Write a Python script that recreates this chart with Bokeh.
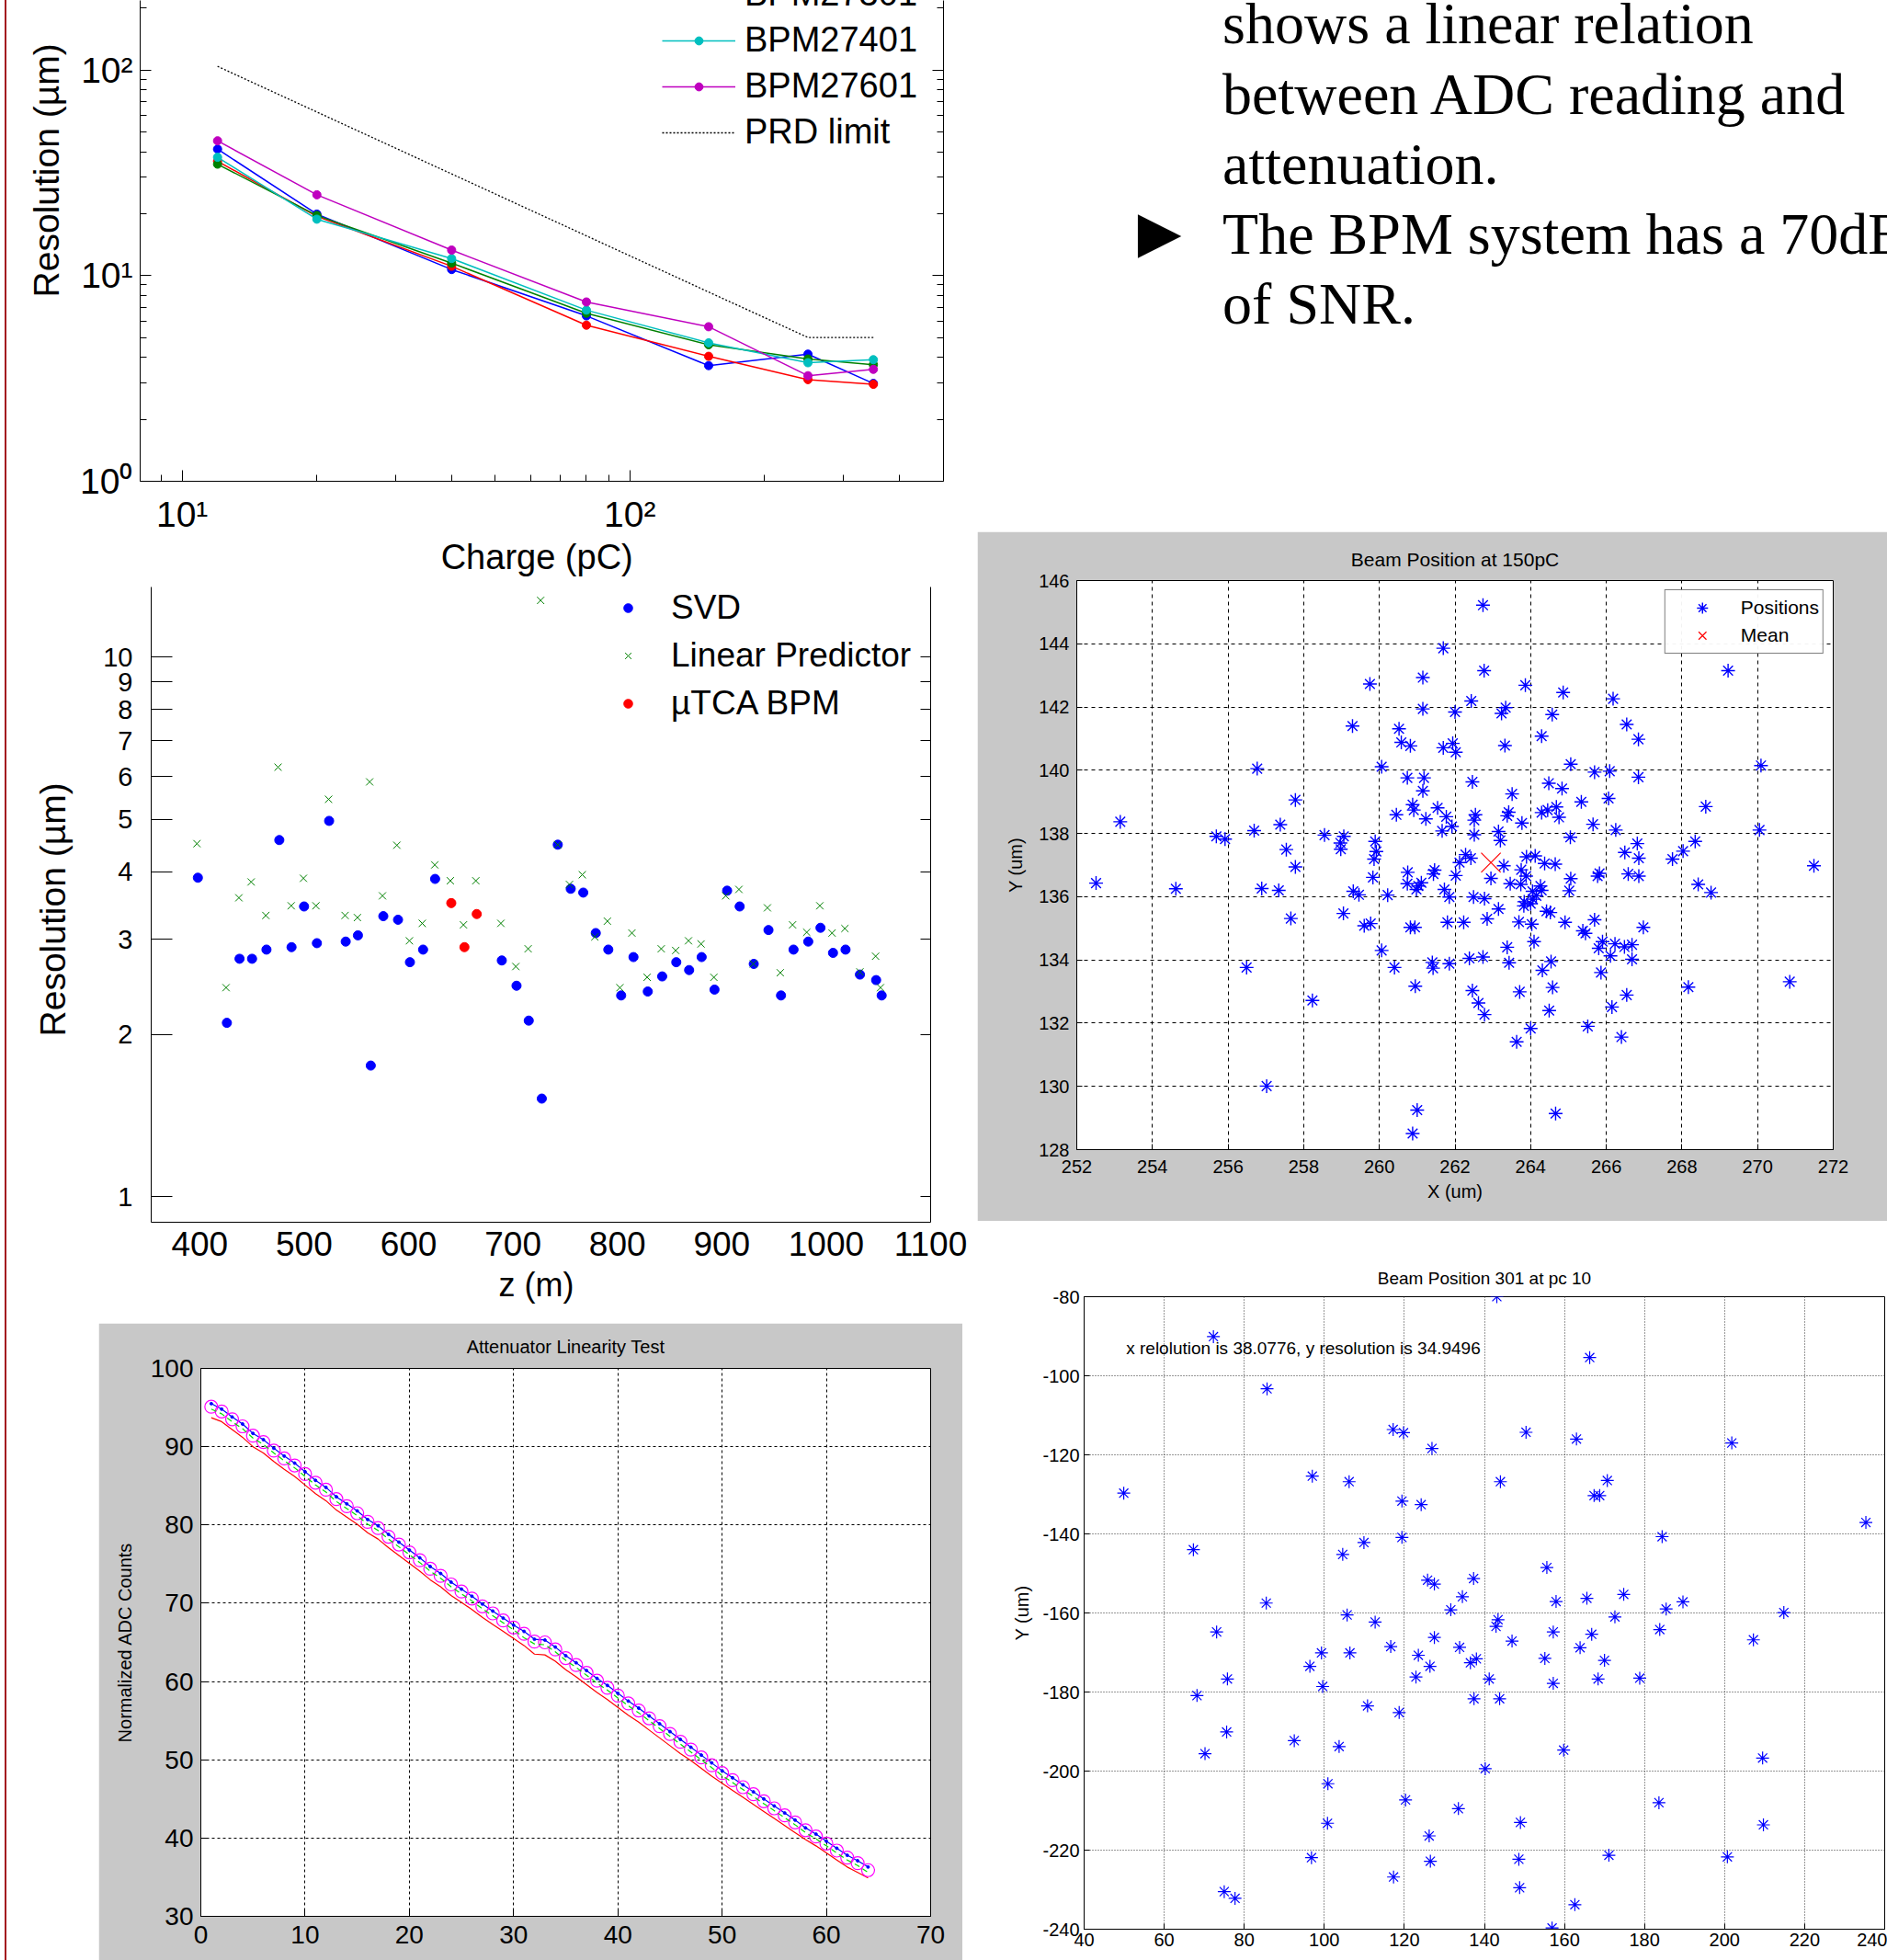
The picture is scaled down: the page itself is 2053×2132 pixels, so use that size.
import math
from bokeh.plotting import figure
from bokeh.models import (FixedTicker, Legend, LegendItem, Label, LogAxis, Range1d,
                          SingleIntervalTicker, Spacer, Title)
from bokeh.layouts import row, column
from bokeh.embed import file_html
from bokeh.resources import INLINE

SANS = "Liberation Sans"
SERIF = "Liberation Serif"
GREY = "#c8c8c8"
SLIDE_RED = "#a3161f"

# ---------------- Panel 1: resolution vs charge ----------------
charge_pc = [12, 20, 40, 80, 150, 250, 350]
res_bpm_blue = [41.2, 19.9, 10.7, 6.37, 3.65, 4.15, 2.99]
res_bpm_red = [36.0, 19.4, 11.1, 5.74, 4.05, 3.12, 2.96]
res_bpm27301 = [34.8, 19.6, 11.5, 6.56, 4.61, 3.93, 3.69]
res_bpm27401 = [37.6, 18.8, 12.1, 6.79, 4.71, 3.77, 3.90]
res_bpm27601 = [45.2, 24.7, 13.3, 7.44, 5.64, 3.26, 3.50]
prd_limit = [104, 62.4, 31.2, 15.6, 8.32, 5.0, 5.0]
charge_major_ticks = [10, 100]
charge_minor_ticks = [9, 20, 30, 40, 50, 60, 70, 80, 90, 200, 300, 400]
res1_major_ticks = [1, 10, 100]
res1_minor_ticks = [2, 3, 4, 5, 6, 7, 8, 9, 20, 30, 40, 50, 60, 70, 80, 90, 200]
pow_labels = {1: "10\u2070", 10: "10\u00b9", 100: "10\u00b2"}

# ---------------- Panel 2: resolution vs z ----------------
svd_z = [398.2, 426.0, 438.1, 450.1, 463.9, 476.2, 487.9, 499.9, 512.2, 523.9,
         539.8, 551.5, 563.8, 575.8, 589.9, 601.3, 613.9, 625.4, 689.3, 703.4,
         715.1, 727.6, 742.9, 755.3, 767.3, 779.3, 791.3, 803.6, 815.4, 829.1,
         842.9, 856.4, 868.7, 880.7, 893.0, 905.1, 917.1, 930.6, 944.7, 956.7,
         968.7, 982.8, 994.5, 1006.5, 1018.5, 1032.3, 1047.8, 1053.1]
svd_res = [3.90, 2.10, 2.76, 2.76, 2.87, 4.58, 2.90, 3.45, 2.95, 4.97,
           2.97, 3.05, 1.75, 3.31, 3.26, 2.72, 2.87, 3.88, 2.74, 2.46,
           2.12, 1.52, 4.49, 3.72, 3.66, 3.08, 2.87, 2.36, 2.78, 2.40,
           2.56, 2.72, 2.63, 2.78, 2.42, 3.69, 3.45, 2.70, 3.12, 2.36,
           2.87, 2.97, 3.15, 2.83, 2.87, 2.58, 2.52, 2.36]
lp_z = [397.3, 425.2, 437.5, 449.2, 463.3, 475.0, 487.6, 499.3, 511.3, 523.4,
        539.2, 551.0, 562.7, 575.0, 588.8, 600.8, 613.1, 625.1, 640.0, 652.6,
        664.4, 688.4, 702.7, 714.5, 726.5, 742.9, 754.1, 766.4, 778.4, 790.4,
        802.4, 813.9, 828.5, 842.0, 855.8, 868.1, 880.1, 892.4, 903.8, 916.4,
        930.2, 943.7, 956.0, 967.8, 981.3, 993.9, 1005.6, 1017.9, 1032.3, 1047.3,
        1052.0]
lp_res = [4.51, 2.44, 3.58, 3.83, 3.32, 6.25, 3.46, 3.89, 3.46, 5.45,
          3.32, 3.29, 5.87, 3.61, 4.48, 2.98, 3.21, 4.12, 3.85, 3.19,
          3.85, 3.21, 2.67, 2.88, 12.73, 4.49, 3.79, 3.95, 3.03, 3.24,
          2.44, 3.08, 2.55, 2.88, 2.86, 2.98, 2.94, 2.55, 3.61, 3.71,
          2.70, 3.43, 2.60, 3.19, 3.09, 3.46, 3.08, 3.14, 2.61, 2.79,
          2.44]
utca_z = [640.9, 653.5, 665.3]
utca_res = [3.50, 2.90, 3.34]
z_ticks = [400, 500, 600, 700, 800, 900, 1000, 1100]
res2_ticks = [1, 2, 3, 4, 5, 6, 7, 8, 9, 10]

# ---------------- Panel 3: beam position at 150pC ----------------
beam150_x = [262.74, 261.69, 262.77, 269.22, 259.75, 261.15, 263.86, 264.86, 266.18, 262.43,
             261.15, 262.00, 263.34, 263.23, 264.57, 259.29, 260.52, 266.54, 264.29, 266.85,
             260.58, 260.82, 261.69, 261.94, 262.02, 263.32, 256.77, 260.06, 270.09, 265.06,
             265.69, 266.09, 260.74, 261.18, 266.85, 262.46, 264.48, 261.15, 264.83, 263.51,
             257.78, 266.06, 265.34, 260.88, 260.91, 268.63, 261.54, 260.45, 263.42, 263.38,
             262.54, 261.23, 262.51, 264.29, 264.45, 264.68, 264.75, 263.77, 261.77, 261.92,
             253.15, 257.38, 265.65, 266.25, 270.05, 255.69, 255.92, 256.69, 258.55, 259.06,
             258.97, 258.98, 259.89, 261.66, 262.51, 263.15, 263.20, 265.05, 266.82, 268.35,
             268.03, 267.75, 257.54, 257.78, 259.92, 259.86, 262.28, 262.42, 262.12, 263.89,
             264.12, 263.29, 264.37, 264.65, 266.49, 266.86, 271.49, 252.51, 254.62, 256.89,
             257.34, 259.83, 260.75, 261.46, 261.43, 262.02, 262.95, 263.88, 263.75, 265.06,
             265.77, 265.82, 266.58, 266.86, 263.46, 263.74, 264.26, 264.29, 260.74, 261.03,
             261.11, 260.98, 259.31, 259.46, 260.22, 261.72, 261.85, 262.49, 262.78, 264.05,
             264.15, 265.02, 268.43, 268.77, 263.83, 263.82, 264.00, 264.06, 263.15, 264.42,
             264.52, 259.05, 257.66, 262.85, 259.60, 259.77, 260.82, 260.94, 261.80, 262.23,
             263.69, 264.03, 264.91, 265.69, 265.38, 265.45, 266.98, 260.06, 260.40, 261.40,
             261.42, 261.85, 262.38, 262.74, 263.38, 263.43, 264.09, 264.54, 264.31, 265.80,
             265.90, 266.11, 266.23, 266.48, 266.68, 266.68, 265.86, 256.49, 258.23, 260.95,
             262.46, 262.62, 262.78, 263.71, 264.58, 264.49, 266.15, 266.54, 268.17, 270.85,
             265.51, 264.00, 263.63, 266.40, 257.02, 261.00, 264.66, 260.88]
beam150_y = [145.22, 143.86, 143.15, 143.15, 142.73, 142.93, 142.69, 142.46, 142.26, 142.19,
             141.94, 141.84, 141.98, 141.80, 141.76, 141.40, 141.31, 141.45, 141.08, 140.98,
             140.88, 140.77, 140.71, 140.85, 140.57, 140.78, 140.05, 140.11, 140.15, 140.19,
             139.94, 139.97, 139.76, 139.76, 139.78, 139.63, 139.59, 139.35, 139.42, 139.25,
             139.06, 139.11, 139.00, 138.91, 138.74, 138.85, 138.81, 138.59, 138.67, 138.56,
             138.59, 138.46, 138.42, 138.66, 138.74, 138.84, 138.51, 138.33, 138.53, 138.22,
             138.37, 138.28, 138.29, 138.11, 138.11, 137.91, 137.82, 138.09, 137.95, 137.91,
             137.70, 137.50, 137.75, 138.08, 137.96, 138.06, 137.78, 137.88, 137.68, 137.75,
             137.44, 137.19, 137.49, 136.94, 137.43, 137.19, 137.33, 137.22, 137.08, 137.26,
             137.29, 136.98, 137.05, 137.03, 137.40, 137.22, 136.98, 136.43, 136.25, 136.26,
             136.20, 136.61, 136.77, 136.84, 136.72, 136.67, 136.58, 136.65, 136.85, 136.57,
             136.65, 136.74, 136.72, 136.65, 136.41, 136.39, 136.34, 136.20, 136.41, 136.34,
             136.44, 136.23, 136.17, 136.06, 136.05, 136.23, 135.99, 135.99, 135.94, 136.17,
             136.03, 136.19, 136.39, 136.13, 135.84, 135.71, 135.78, 135.92, 135.61, 135.54,
             135.50, 135.47, 135.31, 135.30, 135.08, 135.15, 135.03, 135.03, 135.19, 135.19,
             135.20, 135.13, 135.19, 135.27, 134.92, 134.84, 135.03, 134.30, 133.76, 133.92,
             133.74, 133.88, 134.05, 134.09, 134.40, 133.91, 134.58, 133.95, 133.67, 134.37,
             134.58, 134.13, 134.51, 134.41, 134.48, 134.02, 133.60, 133.76, 132.72, 133.17,
             133.03, 132.64, 132.27, 132.99, 133.13, 132.40, 132.51, 132.89, 133.14, 133.31,
             131.90, 131.83, 131.41, 131.56, 130.01, 129.25, 129.14, 128.51]
mean150_x = [262.95]
mean150_y = [137.08]

# ---------------- Panel 4: attenuator linearity ----------------
att_db = list(range(1, 65))
adc_magenta = [95.1, 94.5, 93.5, 92.6, 91.4, 90.6, 89.5, 88.5, 87.6, 86.5,
               85.4, 84.5, 83.3, 82.4, 81.5, 80.4, 79.6, 78.5, 77.5, 76.5,
               75.5, 74.4, 73.5, 72.4, 71.5, 70.6, 69.6, 68.7, 67.8, 66.9,
               66.1, 65.1, 65.0, 64.1, 63.0, 62.1, 61.1, 60.1, 59.2, 58.2,
               57.2, 56.3, 55.3, 54.3, 53.3, 52.3, 51.3, 50.3, 49.3, 48.3,
               47.4, 46.5, 45.6, 44.7, 43.8, 42.9, 42.0, 41.0, 40.2, 39.3,
               38.4, 37.5, 36.8, 35.9]
adc_blue = [95.5, 94.8, 93.8, 92.9, 91.7, 90.9, 89.8, 88.8, 87.9, 86.8,
            85.7, 84.8, 83.6, 82.7, 81.8, 80.7, 79.9, 78.8, 77.8, 76.8,
            75.8, 74.7, 73.8, 72.7, 71.8, 70.9, 69.9, 69.0, 68.1, 67.2,
            66.4, 65.4, 65.3, 64.4, 63.3, 62.4, 61.4, 60.4, 59.5, 58.5,
            57.5, 56.6, 55.6, 54.6, 53.6, 52.6, 51.6, 50.6, 49.6, 48.6,
            47.7, 46.8, 45.9, 45.0, 44.1, 43.2, 42.3, 41.3, 40.5, 39.6,
            38.7, 37.8, 37.1, 36.3]
adc_green = [94.8, 94.2, 93.2, 92.3, 91.1, 90.3, 89.2, 88.2, 87.3, 86.2,
             85.1, 84.2, 83.0, 82.1, 81.2, 80.1, 79.3, 78.2, 77.2, 76.2,
             75.2, 74.1, 73.2, 72.1, 71.2, 70.3, 69.3, 68.4, 67.5, 66.6,
             65.6, 64.8, 64.7, 63.8, 62.7, 61.8, 60.8, 59.8, 58.9, 57.9,
             56.9, 56.0, 55.0, 54.0, 53.0, 52.0, 51.0, 50.0, 49.0, 48.0,
             47.1, 46.2, 45.3, 44.4, 43.5, 42.6, 41.7, 40.7, 39.9, 39.0,
             38.1, 37.2, 36.5, 35.6]
adc_red = [93.7, 93.2, 92.2, 91.2, 90.0, 89.2, 88.1, 87.1, 86.2, 85.1,
           84.0, 83.1, 81.9, 81.0, 80.1, 79.0, 78.2, 77.1, 76.1, 75.1,
           74.1, 73.0, 72.1, 71.0, 70.1, 69.2, 68.2, 67.3, 66.4, 65.5,
           64.6, 63.5, 63.4, 62.6, 61.5, 60.6, 59.6, 58.6, 57.7, 56.7,
           55.7, 54.8, 53.8, 52.8, 51.8, 50.8, 49.9, 48.9, 47.9, 47.0,
           46.1, 45.2, 44.3, 43.4, 42.5, 41.6, 40.7, 39.8, 39.0, 38.1,
           37.2, 36.3, 35.6, 34.9]

# ---------------- Panel 5: beam position 301 at pc 10 ----------------
beam301_x = [143.1, 72.3, 166.3, 85.7, 117.2, 119.8, 150.4, 163.0, 126.9, 201.8,
             49.9, 97.0, 106.2, 144.0, 170.7, 167.4, 168.8, 119.4, 124.2, 119.4,
             109.9, 184.4, 235.3, 67.3, 104.6, 155.6, 125.8, 127.5, 137.3, 134.5,
             174.8, 165.6, 157.9, 189.6, 185.4, 85.5, 131.6, 214.8, 105.7, 172.6,
             143.4, 112.7, 142.9, 73.1, 157.2, 183.8, 166.8, 127.5, 207.2, 146.9,
             116.6, 133.8, 163.9, 99.3, 106.4, 123.5, 155.1, 138.0, 170.0, 136.5,
             96.4, 126.4, 75.8, 122.9, 141.2, 168.4, 178.8, 157.2, 99.6, 68.2,
             137.4, 143.8, 110.8, 118.7, 75.6, 92.5, 103.7, 159.8, 70.2, 209.5,
             140.2, 100.9, 120.3, 183.6, 133.5, 100.8, 149.0, 209.7, 126.2, 96.8,
             171.1, 200.7, 148.6, 126.5, 117.3, 75.0, 77.7, 148.8, 162.6, 156.9]
beam301_y = [-80.0, -90.1, -95.4, -103.3, -113.6, -114.4, -114.3, -116.0, -118.4, -117.0,
             -129.7, -125.4, -126.8, -126.8, -126.5, -130.3, -130.3, -131.7, -132.6, -140.9,
             -142.2, -140.7, -137.1, -144.0, -145.2, -148.5, -151.7, -152.7, -151.3, -155.9,
             -155.3, -156.3, -157.1, -157.2, -159.0, -157.5, -159.2, -159.9, -160.5, -161.0,
             -161.7, -162.3, -163.4, -164.8, -164.8, -164.2, -165.4, -166.2, -166.8, -167.1,
             -168.5, -168.7, -168.8, -170.1, -170.1, -170.7, -171.5, -171.6, -172.0, -172.6,
             -173.5, -173.5, -176.7, -176.2, -176.7, -176.7, -176.5, -177.8, -178.6, -180.9,
             -181.7, -181.7, -183.5, -185.2, -190.1, -192.3, -193.8, -194.7, -195.6, -196.7,
             -199.4, -203.2, -207.3, -208.0, -209.5, -213.2, -213.0, -213.6, -216.4, -221.9,
             -221.3, -221.7, -222.3, -222.8, -226.8, -230.5, -232.2, -229.5, -233.8, -239.7]
pos301_y_ticks = [-80, -100, -120, -140, -160, -180, -200, -220, -240]
resolution_note = "x relolution is 38.0776, y resolution is 34.9496"

# ---------------- Slide text ----------------
slide_lines = ["shows a linear relation", "between ADC reading and", "attenuation.",
               "The BPM system has a 70dB", "of SNR."]
slide_baselines = [25.4, 102.4, 178.4, 254.4, 330.4]


def ticks_in(ax, major=6, minor=0):
    ax.major_tick_in = major
    ax.major_tick_out = 0
    ax.minor_tick_in = minor
    ax.minor_tick_out = 0


def hidden_labels(ax):
    ax.major_label_text_font_size = "1px"
    ax.major_label_text_color = None
    ax.major_label_standoff = 0


def fig(**kw):
    f = figure(output_backend="svg", toolbar_location=None, **kw)
    f.frame_align = False
    return f


# ======== Panel 1 ========
p1 = fig(width=1056, height=638, x_axis_type="log", y_axis_type="log",
         x_range=Range1d(8.06, 502), y_range=Range1d(1, 217.5),
         min_border_left=145, min_border_right=37, min_border_top=0, min_border_bottom=115)
p1.outline_line_color = None
p1.grid.visible = False
xt1 = FixedTicker(ticks=charge_major_ticks, minor_ticks=charge_minor_ticks)
yt1 = FixedTicker(ticks=res1_major_ticks, minor_ticks=res1_minor_ticks)
p1.xaxis.ticker = xt1
p1.yaxis.ticker = yt1
p1.xaxis.major_label_overrides = {k: v for k, v in pow_labels.items() if k in charge_major_ticks}
p1.yaxis.major_label_overrides = dict(pow_labels)
for ax in (p1.xaxis[0], p1.yaxis[0]):
    ticks_in(ax, 12, 7)
    ax.major_label_text_font = SANS
    ax.major_label_text_font_size = "39px"
    ax.major_label_text_color = "black"
    ax.axis_line_color = "black"
p1.xaxis.major_label_standoff = 14
p1.yaxis.major_label_standoff = 8
p1.xaxis.axis_label = "Charge  (pC)"
p1.xaxis.axis_label_text_font = SANS
p1.xaxis.axis_label_text_font_size = "38px"
p1.xaxis.axis_label_text_font_style = "normal"
p1.xaxis.axis_label_text_color = "black"
p1.xaxis.axis_label_standoff = 1
r1 = LogAxis(ticker=yt1)
ticks_in(r1, 12, 7)
hidden_labels(r1)
p1.add_layout(r1, "right")
p1.add_layout(Title(text="Resolution  (\u00b5m)", align="right", offset=36, standoff=23,
                    vertical_align="middle", text_font=SANS, text_font_size="39px",
                    text_font_style="normal", text_color="black"), "left")

series1 = [(res_bpm_blue, "#0000ff"), (res_bpm_red, "#ff0000"), (res_bpm27301, "#008000"),
           (res_bpm27401, "#00bfbf"), (res_bpm27601, "#bf00bf")]
rends1 = []
for vals, col in series1:
    ln = p1.line(charge_pc, vals, line_color=col, line_width=1.5)
    sc = p1.scatter(charge_pc, vals, marker="circle", size=9, color=col)
    rends1.append([ln, sc])
prd = p1.line(charge_pc, prd_limit, line_color="black", line_dash="2 2", line_width=1.3)

leg1 = Legend(items=[LegendItem(label="BPM27301", renderers=rends1[2]),
                     LegendItem(label="BPM27401", renderers=rends1[3]),
                     LegendItem(label="BPM27601", renderers=rends1[4]),
                     LegendItem(label="PRD limit", renderers=[prd])],
              location=(568, 358))
leg1.label_text_font = SANS
leg1.label_text_font_size = "38px"
leg1.label_text_color = "black"
leg1.glyph_width = 80
leg1.glyph_height = 22
leg1.spacing = 7
leg1.padding = 0
leg1.margin = 0
leg1.label_standoff = 10
leg1.border_line_color = None
leg1.background_fill_alpha = 0
p1.add_layout(leg1)

# ======== Panel 2 ========
p2 = fig(width=1056, height=801, y_axis_type="log",
         x_range=Range1d(353.5, 1100), y_range=Range1d(0.897, 13.48),
         min_border_left=157, min_border_right=51, min_border_top=0, min_border_bottom=110)
p2.outline_line_color = None
p2.grid.visible = False
yt2 = FixedTicker(ticks=res2_ticks, minor_ticks=[])
p2.xaxis.ticker = FixedTicker(ticks=z_ticks, minor_ticks=[])
p2.yaxis.ticker = yt2
p2.yaxis.major_label_overrides = {t: str(t) for t in res2_ticks}
ticks_in(p2.xaxis[0], 0, 0)
ticks_in(p2.yaxis[0], 23, 0)
p2.xaxis.major_label_text_font = SANS
p2.xaxis.major_label_text_font_size = "37px"
p2.xaxis.major_label_standoff = 10
p2.yaxis.major_label_text_font = SANS
p2.yaxis.major_label_text_font_size = "29px"
p2.yaxis.major_label_standoff = 20
p2.xaxis.axis_label = "z  (m)"
p2.yaxis.axis_label = "Resolution  (\u00b5m)"
for ax in (p2.xaxis[0], p2.yaxis[0]):
    ax.axis_label_text_font = SANS
    ax.axis_label_text_font_style = "normal"
    ax.axis_label_text_color = "black"
    ax.major_label_text_color = "black"
    ax.axis_line_color = "black"
p2.xaxis.axis_label_text_font_size = "36px"
p2.yaxis.axis_label_text_font_size = "39px"
p2.xaxis.axis_label_standoff = 8
p2.yaxis.axis_label_standoff = 30
r2 = LogAxis(ticker=yt2)
ticks_in(r2, 11, 0)
hidden_labels(r2)
p2.add_layout(r2, "right")

r_svd = p2.scatter(svd_z, svd_res, marker="circle", size=10, color="#0000ff")
r_lp = p2.scatter(lp_z, lp_res, marker="x", size=11, line_color="#008000", line_width=1)
r_utca = p2.scatter(utca_z, utca_res, marker="circle", size=10, color="#ff0000")
leg2 = Legend(items=[LegendItem(label="SVD", renderers=[r_svd]),
                     LegendItem(label="Linear Predictor", renderers=[r_lp]),
                     LegendItem(label="\u00b5TCA BPM", renderers=[r_utca])],
              location=(507, 543))
leg2.label_text_font = SANS
leg2.label_text_font_size = "37px"
leg2.label_text_color = "black"
leg2.glyph_width = 24
leg2.glyph_height = 24
leg2.spacing = 10
leg2.padding = 0
leg2.margin = 0
leg2.label_standoff = 35
leg2.border_line_color = None
leg2.background_fill_alpha = 0
p2.add_layout(leg2)

# ======== Panel 4 ========
p4 = fig(width=940, height=693, x_range=Range1d(0, 70), y_range=Range1d(30, 100),
         title="Attenuator Linearity Test",
         border_fill_color=GREY, background_fill_color="white",
         min_border_left=111, min_border_right=35, min_border_top=48, min_border_bottom=48)
p4.title.align = "center"
p4.title.text_font = SANS
p4.title.text_font_size = "20px"
p4.title.text_font_style = "normal"
p4.title.text_color = "black"
p4.title.standoff = 25
p4.outline_line_color = "black"
p4.xaxis.ticker = SingleIntervalTicker(interval=10)
p4.yaxis.ticker = SingleIntervalTicker(interval=10)
for ax in (p4.xaxis[0], p4.yaxis[0]):
    ticks_in(ax, 7, 0)
    ax.major_label_text_font = SANS
    ax.major_label_text_font_size = "28px"
    ax.major_label_text_color = "black"
    ax.axis_line_color = "black"
p4.xaxis.major_label_standoff = 10
p4.yaxis.major_label_standoff = 8
p4.yaxis.axis_label = "Normalized ADC Counts"
p4.yaxis.axis_label_text_font = SANS
p4.yaxis.axis_label_text_font_size = "20px"
p4.yaxis.axis_label_text_font_style = "normal"
p4.yaxis.axis_label_text_color = "black"
p4.yaxis.axis_label_standoff = 14
p4.grid.grid_line_color = "black"
p4.grid.grid_line_dash = "3 3"
p4.grid.grid_line_alpha = 1

p4.line(att_db, adc_red, line_color="#ff0000", line_width=1.2)
p4.line(att_db, adc_blue, line_color="#0000ff", line_width=1.2)
p4.scatter(att_db, adc_blue, marker="circle", size=3, color="#0000ff")
p4.scatter(att_db, adc_magenta, marker="circle", size=14, fill_color=None,
           line_color="#ff00ff", line_width=1.2)
p4.line(att_db, adc_green, line_color="#00e000", line_dash="6 4", line_width=1.2)

# ======== Slide text ========
pt = fig(width=990, height=578, x_range=Range1d(0, 990), y_range=Range1d(578, 0),
         x_axis_location=None, y_axis_location=None,
         min_border_left=0, min_border_right=0, min_border_top=0, min_border_bottom=0)
pt.grid.visible = False
pt.outline_line_color = None
for txt, yb in zip(slide_lines, slide_baselines):
    pt.add_layout(Label(x=266.6, y=yb, text=txt, text_font=SERIF, text_font_size="64px",
                        text_baseline="alphabetic", text_align="left", text_color="black"))
pt.add_layout(Label(x=198, y=251, text="\u25b6", text_font="DejaVu Sans",
                    text_font_size="62px", text_baseline="alphabetic", text_align="center",
                    text_color="black"))

# ======== Panel 3 ========
p3 = fig(width=990, height=750, x_range=Range1d(252, 272), y_range=Range1d(128, 146),
         title="Beam Position at 150pC",
         border_fill_color=GREY, background_fill_color="white",
         min_border_left=108, min_border_right=59, min_border_top=53, min_border_bottom=78)
p3.title.align = "center"
p3.title.text_font = SANS
p3.title.text_font_size = "21px"
p3.title.text_font_style = "normal"
p3.title.text_color = "black"
p3.title.standoff = 23
p3.outline_line_color = "black"
p3.xaxis.ticker = SingleIntervalTicker(interval=2)
p3.yaxis.ticker = SingleIntervalTicker(interval=2)
for ax in (p3.xaxis[0], p3.yaxis[0]):
    ticks_in(ax, 6, 0)
    ax.major_label_text_font = SANS
    ax.major_label_text_font_size = "20px"
    ax.major_label_text_color = "black"
    ax.axis_line_color = "black"
    ax.axis_label_text_font = SANS
    ax.axis_label_text_font_size = "20px"
    ax.axis_label_text_font_style = "normal"
    ax.axis_label_text_color = "black"
p3.xaxis.major_label_standoff = 11
p3.yaxis.major_label_standoff = 8
p3.xaxis.axis_label = "X (um)"
p3.yaxis.axis_label = "Y (um)"
p3.xaxis.axis_label_standoff = 6
p3.yaxis.axis_label_standoff = 11
p3.grid.grid_line_color = "black"
p3.grid.grid_line_dash = "4 4"
p3.grid.grid_line_alpha = 1
r_pos = p3.scatter(beam150_x, beam150_y, marker="asterisk", size=15, line_color="#0000ff",
                   line_width=1.4)
r_mean = p3.scatter(mean150_x, mean150_y, marker="x", size=30, line_color="#ff0000",
                    line_width=1.2)
leg3 = Legend(items=[LegendItem(label="Positions", renderers=[r_pos]),
                     LegendItem(label="Mean", renderers=[r_mean])],
              location="top_right")
leg3.label_text_font = SANS
leg3.label_text_font_size = "21px"
leg3.label_text_color = "black"
leg3.glyph_width = 72
leg3.glyph_height = 30
leg3.spacing = 0
leg3.padding = 4
leg3.margin = 10
leg3.label_standoff = 6
leg3.border_line_color = "black"
leg3.border_line_width = 1.5
leg3.background_fill_color = "white"
p3.add_layout(leg3)

# ======== Panel 5 ========
p5 = fig(width=990, height=804, x_range=Range1d(40, 240), y_range=Range1d(-240, -80),
         title="Beam Position 301 at pc 10",
         border_fill_color="white", background_fill_color="white",
         min_border_left=116, min_border_right=3, min_border_top=82, min_border_bottom=34)
p5.title.align = "center"
p5.title.text_font = SANS
p5.title.text_font_size = "19px"
p5.title.text_font_style = "normal"
p5.title.text_color = "black"
p5.title.standoff = 19
p5.outline_line_color = "black"
p5.xaxis.ticker = SingleIntervalTicker(interval=20)
p5.yaxis.ticker = FixedTicker(ticks=pos301_y_ticks)
p5.yaxis.major_label_overrides = {t: str(t) for t in pos301_y_ticks}
for ax in (p5.xaxis[0], p5.yaxis[0]):
    ticks_in(ax, 6, 0)
    ax.major_label_text_font = SANS
    ax.major_label_text_font_size = "20px"
    ax.major_label_text_color = "black"
    ax.axis_line_color = "black"
p5.xaxis.major_label_standoff = 4
p5.yaxis.major_label_standoff = 5
p5.yaxis.axis_label = "Y (um)"
p5.yaxis.axis_label_text_font = SANS
p5.yaxis.axis_label_text_font_size = "20px"
p5.yaxis.axis_label_text_font_style = "normal"
p5.yaxis.axis_label_text_color = "black"
p5.yaxis.axis_label_standoff = 8
p5.grid.grid_line_color = "#303030"
p5.grid.grid_line_dash = "1 2"
p5.grid.grid_line_alpha = 1
p5.scatter(beam301_x, beam301_y, marker="asterisk", size=14, line_color="#0000ff",
           line_width=1.2)
p5.add_layout(Label(x=50.5, y=-93.0, text=resolution_note, text_font=SANS,
                    text_font_size="19px", text_baseline="middle", text_align="left",
                    text_color="black"))

left_col = column(p1, p2, row(Spacer(width=100, height=693), p4, Spacer(width=16, height=693)))
left = row(Spacer(width=5, height=2132),
           Spacer(width=2, height=2132, styles={"background-color": SLIDE_RED}),
           left_col)
right = column(pt, p3, p5)
layout = row(left, right)

open("out.html", "w").write(file_html(layout, INLINE, title="BPM resolution"))
